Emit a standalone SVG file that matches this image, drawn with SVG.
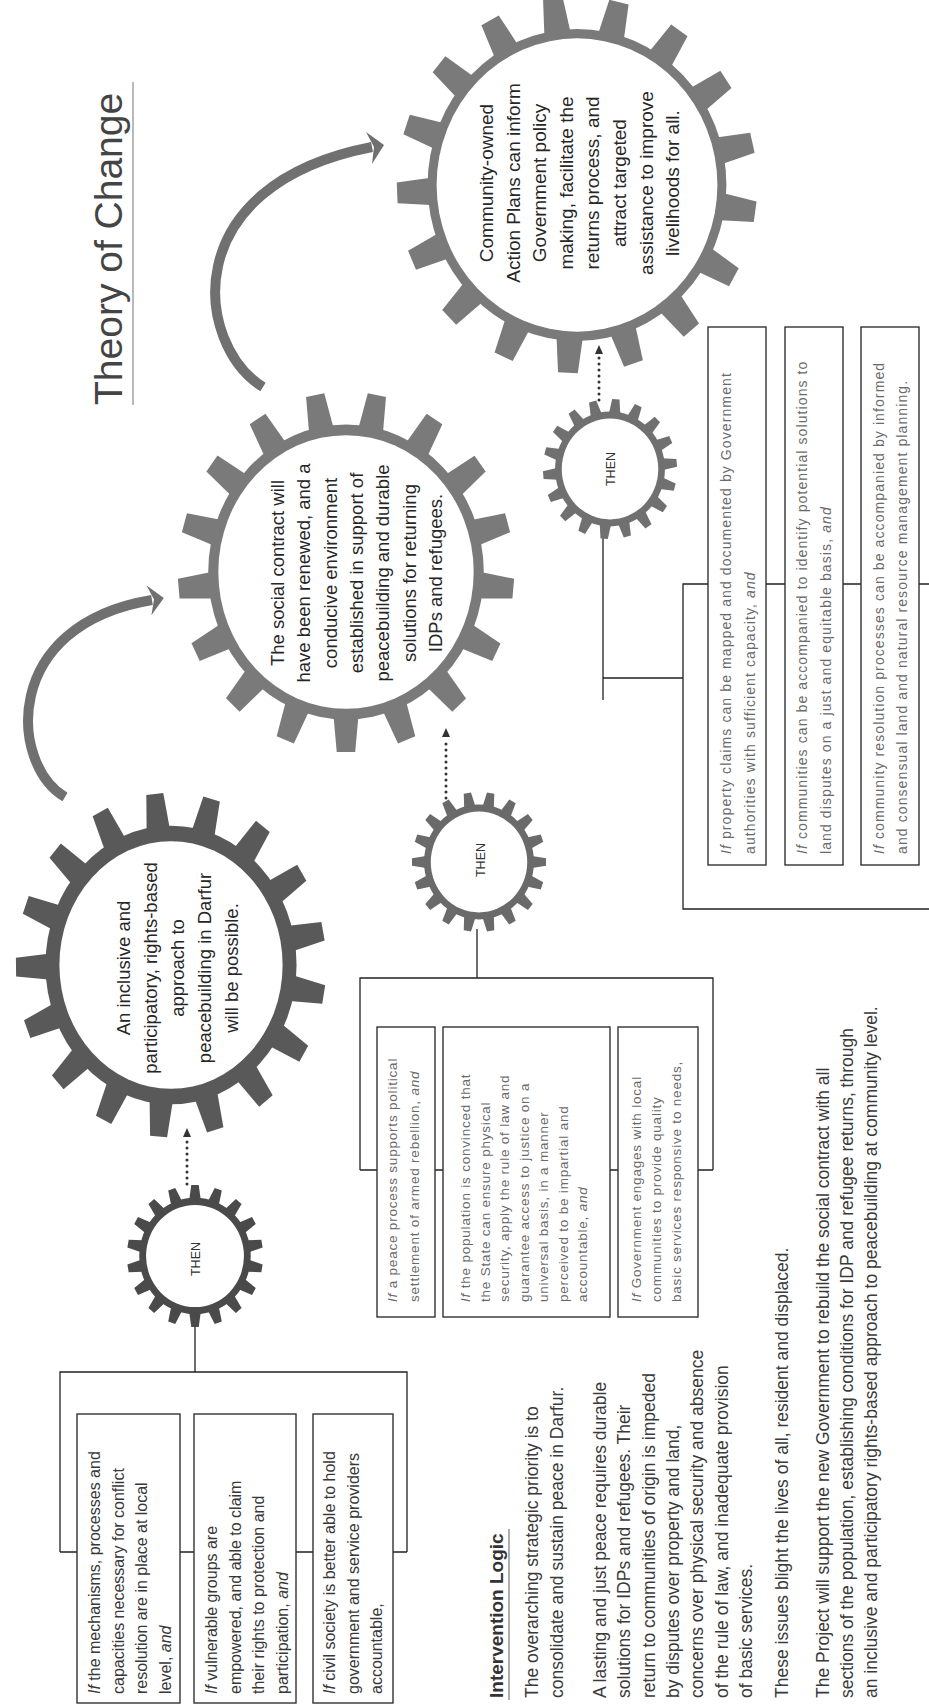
<svg xmlns="http://www.w3.org/2000/svg" width="929" height="1706" viewBox="0 0 929 1706">
<defs>
<style>
text{font-family:"Liberation Sans",Arial,sans-serif}
.gtx{font-size:18.5px;fill:#262626;text-anchor:middle}
.then{font-size:12.5px;fill:#333;text-anchor:middle}
.b1{font-size:16px;fill:#383838}
.b2{font-size:13.5px;fill:#6a6a6a;letter-spacing:0.8px}
.b3{font-size:14px;fill:#6a6a6a;letter-spacing:1.1px}
.body{font-size:17.5px;fill:#3a3a3a}
.it{font-style:italic}
.box{fill:#fff;stroke:#333;stroke-width:1.4}
.ln{fill:none;stroke:#222;stroke-width:1.3}
.arc{fill:none;stroke:#707070;stroke-width:10}
.dot{fill:none;stroke:#333;stroke-width:3;stroke-dasharray:0 6;stroke-linecap:round}
.white{fill:#fff}
</style>
<polygon id="bt" points="-7.5,-79 7.5,-79 5.5,-100 -5.5,-100"/>
<polygon id="st" points="-8.5,-79 8.5,-79 5.5,-100 -5.5,-100"/>
<g id="T17">
<use href="#bt"/><use href="#bt" transform="rotate(21.18)"/><use href="#bt" transform="rotate(42.35)"/><use href="#bt" transform="rotate(63.53)"/><use href="#bt" transform="rotate(84.71)"/><use href="#bt" transform="rotate(105.88)"/><use href="#bt" transform="rotate(127.06)"/><use href="#bt" transform="rotate(148.24)"/><use href="#bt" transform="rotate(169.41)"/><use href="#bt" transform="rotate(190.59)"/><use href="#bt" transform="rotate(211.76)"/><use href="#bt" transform="rotate(232.94)"/><use href="#bt" transform="rotate(254.12)"/><use href="#bt" transform="rotate(275.29)"/><use href="#bt" transform="rotate(296.47)"/><use href="#bt" transform="rotate(317.65)"/><use href="#bt" transform="rotate(338.82)"/>
</g>
<g id="T18">
<use href="#st"/><use href="#st" transform="rotate(20)"/><use href="#st" transform="rotate(40)"/><use href="#st" transform="rotate(60)"/><use href="#st" transform="rotate(80)"/><use href="#st" transform="rotate(100)"/><use href="#st" transform="rotate(120)"/><use href="#st" transform="rotate(140)"/><use href="#st" transform="rotate(160)"/><use href="#st" transform="rotate(180)"/><use href="#st" transform="rotate(200)"/><use href="#st" transform="rotate(220)"/><use href="#st" transform="rotate(240)"/><use href="#st" transform="rotate(260)"/><use href="#st" transform="rotate(280)"/><use href="#st" transform="rotate(300)"/><use href="#st" transform="rotate(320)"/><use href="#st" transform="rotate(340)"/>
</g>
</defs>
<rect width="929" height="1706" fill="#fff"/>

<g id="title">
<text transform="translate(122,405) rotate(-90)" font-size="39" fill="#444">Theory of Change</text>
<line x1="133" y1="82" x2="133" y2="405" stroke="#8a8a8a" stroke-width="1.2"/>
</g>

<g id="connectors">
<path class="arc" d="M65,797 C10,765 0,625 152,600"/>
<polygon points="163.8,598 146.6,585.6 154,599.6 151.4,615.2" fill="#707070"/>
<path class="arc" d="M263,387 C195,345 175,185 372,147"/>
<polygon points="384,145 366,132 374,147 372,164" fill="#707070"/>
<line class="dot" x1="187" y1="1184" x2="187" y2="1138"/>
<polygon points="187,1128 183,1137 191,1137" fill="#333"/>
<line class="dot" x1="446" y1="798" x2="446" y2="738"/>
<polygon points="446,728 442,737 450,737" fill="#333"/>
<line class="dot" x1="599" y1="400" x2="599" y2="355"/>
<polygon points="599,345 595,354 603,354" fill="#333"/>
<path class="ln" d="M195,1324 V1372 M60,1552 V1372 H407 V1552 M60,1552 H407"/>
<path class="ln" d="M477,929 V978 M360,1170 V978 H713 V1170 M360,1170 H713"/>
<path class="ln" d="M603,536 V700 M603,678 H683 M929,584 H683 V909 H929"/>
</g>

<g id="gear1">
<g transform="translate(171,965) scale(1.55,1.72)" fill="#595959">
<circle r="81"/>
<use href="#T17" transform="rotate(-6)"/>
<circle class="white" r="72"/>
</g>
<text class="gtx" transform="translate(130,968) rotate(-90)"><tspan x="0" y="0">An inclusive and</tspan><tspan x="0" y="27">participatory, rights-based</tspan><tspan x="0" y="54">approach to</tspan><tspan x="0" y="81">peacebuilding in Darfur</tspan><tspan x="0" y="108">will be possible.</tspan></text>
</g>

<g id="gear2">
<g transform="translate(346,572) scale(1.68,1.8)" fill="#7a7a7a">
<circle r="82"/>
<use href="#T17" transform="rotate(10.6)"/>
<circle class="white" r="76"/>
</g>
<text class="gtx" transform="translate(284,573) rotate(-90)"><tspan x="0" y="0">The social contract will</tspan><tspan x="0" y="26.3">have been renewed, and a</tspan><tspan x="0" y="52.6">conducive environment</tspan><tspan x="0" y="78.9">established in support of</tspan><tspan x="0" y="105.2">peacebuilding and durable</tspan><tspan x="0" y="131.5">solutions for returning</tspan><tspan x="0" y="157.8">IDPs and refugees.</tspan></text>
</g>

<g id="gear3">
<g transform="translate(577,185) scale(1.8,1.88)" fill="#7a7a7a">
<circle r="83"/>
<use href="#T17" transform="rotate(-7.7)"/>
<circle class="white" r="78"/>
</g>
<text class="gtx" style="font-size:19px" transform="translate(493,183) rotate(-90)"><tspan x="0" y="0">Community-owned</tspan><tspan x="0" y="26.6">Action Plans can inform</tspan><tspan x="0" y="53.2">Government policy</tspan><tspan x="0" y="79.8">making, facilitate the</tspan><tspan x="0" y="106.4">returns process, and</tspan><tspan x="0" y="133">attract targeted</tspan><tspan x="0" y="159.6">assistance to improve</tspan><tspan x="0" y="186.2">livelihoods for all.</tspan></text>
</g>

<g id="then1">
<g transform="translate(195,1256) scale(0.68,0.71)" fill="#4a4a4a">
<circle r="82"/>
<use href="#T18"/>
<circle class="white" r="72"/>
</g>
<text class="then" transform="translate(199.5,1259) rotate(-90)">THEN</text>
</g>

<g id="then2">
<g transform="translate(479,862) scale(0.67,0.7)" fill="#6a6a6a">
<circle r="82"/>
<use href="#T18" transform="rotate(10)"/>
<circle class="white" r="72"/>
</g>
<text class="then" transform="translate(484.5,860) rotate(-90)">THEN</text>
</g>

<g id="then3">
<g transform="translate(610,469) scale(0.67,0.7)" fill="#707070">
<circle r="82"/>
<use href="#T18" transform="rotate(5)"/>
<circle class="white" r="72"/>
</g>
<text class="then" transform="translate(614.5,469) rotate(-90)">THEN</text>
</g>

<g id="box1a">
<rect class="box" x="77" y="1414" width="103" height="289"/>
<text class="b1" transform="translate(100,1694) rotate(-90)"><tspan x="0" y="0"><tspan class="it">If</tspan> the mechanisms, processes and</tspan><tspan x="0" y="23.7">capacities necessary for conflict</tspan><tspan x="0" y="47.4">resolution are in place at local</tspan><tspan x="0" y="71.1">level, <tspan class="it">and</tspan></tspan></text>
</g>
<g id="box1b">
<rect class="box" x="194" y="1414" width="102" height="289"/>
<text class="b1" transform="translate(217,1694) rotate(-90)"><tspan x="0" y="0"><tspan class="it">If</tspan> vulnerable groups are</tspan><tspan x="0" y="23.7">empowered,  and able to claim</tspan><tspan x="0" y="47.4">their rights to protection and</tspan><tspan x="0" y="71.1">participation, <tspan class="it">and</tspan></tspan></text>
</g>
<g id="box1c">
<rect class="box" x="313" y="1414" width="80" height="289"/>
<text class="b1" transform="translate(335,1694) rotate(-90)"><tspan x="0" y="0"><tspan class="it">If</tspan> civil society is better able to hold</tspan><tspan x="0" y="23.5">government and service providers</tspan><tspan x="0" y="47">accountable,</tspan></text>
</g>

<g id="box2a">
<rect class="box" x="377" y="1027" width="58" height="290"/>
<text class="b2" transform="translate(397,1302) rotate(-90)"><tspan x="0" y="0"><tspan class="it">If</tspan> a peace process supports political</tspan><tspan x="0" y="22">settlement  of armed rebellion, <tspan class="it">and</tspan></tspan></text>
</g>
<g id="box2b">
<rect class="box" x="443" y="1027" width="167" height="290"/>
<text class="b2" transform="translate(470,1302) rotate(-90)"><tspan x="0" y="0"><tspan class="it">If</tspan> the population is convinced that</tspan><tspan x="0" y="19.5">the State can ensure physical</tspan><tspan x="0" y="39">security, apply the rule of law and</tspan><tspan x="0" y="58.5">guarantee access to justice on a</tspan><tspan x="0" y="78">universal basis, in a manner</tspan><tspan x="0" y="97.5">perceived to be impartial and</tspan><tspan x="0" y="117">accountable, <tspan class="it">and</tspan></tspan></text>
</g>
<g id="box2c">
<rect class="box" x="618" y="1027" width="80" height="290"/>
<text class="b2" transform="translate(641,1302) rotate(-90)"><tspan x="0" y="0"><tspan class="it">If</tspan> Government engages with local</tspan><tspan x="0" y="20">communities to provide quality</tspan><tspan x="0" y="40">basic services responsive to needs,</tspan></text>
</g>

<g id="box3a">
<rect class="box" x="708" y="327" width="58" height="538"/>
<text class="b3" transform="translate(731,854) rotate(-90)"><tspan x="0" y="0"><tspan class="it">If</tspan> property claims can be mapped and documented  by Government</tspan><tspan x="0" y="24">authorities with sufficient capacity, <tspan class="it">and</tspan></tspan></text>
</g>
<g id="box3b">
<rect class="box" x="785" y="327" width="58" height="538"/>
<text class="b3" transform="translate(807,854) rotate(-90)"><tspan x="0" y="0"><tspan class="it">If</tspan> communities can be accompanied to identify potential solutions to</tspan><tspan x="0" y="24">land disputes on a just and equitable basis, <tspan class="it">and</tspan></tspan></text>
</g>
<g id="box3c">
<rect class="box" x="861" y="327" width="58" height="538"/>
<text class="b3" transform="translate(884,854) rotate(-90)"><tspan x="0" y="0"><tspan class="it">If</tspan> community resolution processes can be accompanied by informed</tspan><tspan x="0" y="23">and consensual land and natural resource management planning.</tspan></text>
</g>

<g id="intervention-logic">
<text transform="translate(503,1698) rotate(-90)" font-size="19" font-weight="bold" fill="#333">Intervention Logic</text>
<line x1="509" y1="1529" x2="509" y2="1700" stroke="#777" stroke-width="1.2"/>
<text class="body" transform="translate(538,1698) rotate(-90)"><tspan x="0" y="0">The overarching strategic priority is to</tspan><tspan x="0" y="25">consolidate and sustain peace in Darfur.</tspan></text>
<text class="body" transform="translate(606,1698) rotate(-90)"><tspan x="0" y="0">A lasting and just peace requires durable</tspan><tspan x="0" y="24.3">solutions for IDPs and refugees. Their</tspan><tspan x="0" y="48.6">return to communities of origin is impeded</tspan><tspan x="0" y="72.9">by disputes over property and land,</tspan><tspan x="0" y="97.2">concerns over physical security and absence</tspan><tspan x="0" y="121.5">of the rule of law, and inadequate provision</tspan><tspan x="0" y="145.8">of basic services.</tspan></text>
<text class="body" transform="translate(788,1698) rotate(-90)">These issues blight the lives of all,  resident and displaced.</text>
<text class="body" transform="translate(829,1698) rotate(-90)"><tspan x="0" y="0">The Project will support the new Government to rebuild the social contract with all</tspan><tspan x="0" y="24">sections of the population, establishing conditions for IDP and refugee returns, through</tspan><tspan x="0" y="48">an inclusive and participatory rights-based approach to peacebuilding at community level.</tspan></text>
</g>
</svg>
